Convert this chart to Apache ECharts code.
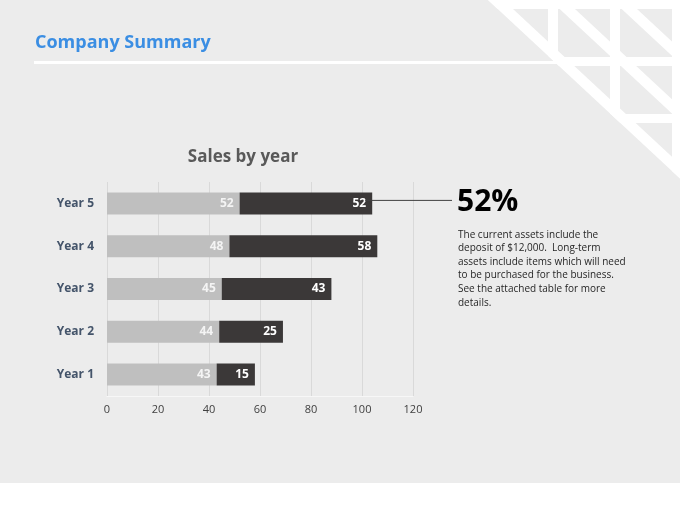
<!DOCTYPE html>
<html><head><meta charset="utf-8">
<script src="https://cdn.jsdelivr.net/npm/echarts@6/dist/echarts.min.js"></script>
<style>html,body{margin:0;padding:0;background:#fff}#c{width:680px;height:510px}</style>
</head><body><div id="c"></div>
<script>
const categories = ['Year 1', 'Year 2', 'Year 3', 'Year 4', 'Year 5'];
const seriesLight = [43, 44, 45, 48, 52];
const seriesDark = [15, 25, 43, 58, 52];
const xTicks = [0, 20, 40, 60, 80, 100, 120];
const pageTitle = 'Company Summary';
const chartTitle = 'Sales by year';
const headline = '52%';
const noteLines = [
  'The current assets include the',
  'deposit of $12,000.  Long-term',
  'assets include items which will need',
  'to be purchased for the business.',
  'See the attached table for more',
  'details.'
];

const BG = '#ececec';
const chart = echarts.init(document.getElementById('c'), null, {renderer: 'canvas'});

function decor() {
  const els = [];
  els.push({type: 'rect', id: 'bg', z: -10, silent: true, shape: {x: 0, y: 0, width: 680, height: 483}, style: {fill: BG}});
  els.push({type: 'polygon', id: 'wtri', z: -9, silent: true, shape: {points: [[488, 0], [680, 0], [680, 178.6]]}, style: {fill: '#ffffff'}});
  const cols = [496, 558, 620], rows = [9, 66, 123];
  for (let r = 0; r < 3; r++) for (let c = r; c < 3; c++) {
    els.push({type: 'rect', id: 'cell' + r + c, z: -8, silent: true, shape: {x: cols[c], y: rows[r], width: 52, height: 48}, style: {fill: BG}});
  }
  for (let k = 0; k < 3; k++) {
    const s = 62 * k;
    els.push({type: 'polygon', id: 'band' + k, z: -7, silent: true,
      shape: {points: [[488 + s, 0], [503.3 + s, 0], [718.3 + s, 200], [703 + s, 200]]}, style: {fill: '#ffffff'}});
  }
  els.push({type: 'rect', id: 'tline', z: -6, silent: true, shape: {x: 34, y: 61, width: 646, height: 3}, style: {fill: '#ffffff'}});
  els.push({type: 'text', id: 'ptitle', z: 5, x: 35, y: 43, style: {text: pageTitle, fill: '#3b8ee3', font: 'bold 18px "Open Sans", sans-serif', verticalAlign: 'middle'}});
  els.push({type: 'text', id: 'ctitle', z: 5, x: 243, y: 157, style: {text: chartTitle, fill: '#595959', font: 'bold 17px "Open Sans", sans-serif', align: 'center', verticalAlign: 'middle'}});
  els.push({type: 'text', id: 'head', z: 5, x: 457, y: 202, style: {text: headline, fill: '#000000', font: 'bold 30px "Open Sans", sans-serif', verticalAlign: 'middle'}});
  els.push({type: 'text', id: 'note', z: 5, x: 458, y: 228, style: {text: noteLines.join('\n'), fill: '#262626', font: '10px "Open Sans", sans-serif', lineHeight: 13.6, verticalAlign: 'top'}});
  return els;
}

const labelCommon = {show: true, position: 'insideRight', distance: 6, fontWeight: 'bold', fontSize: 12, fontFamily: '"Open Sans", sans-serif'};

chart.setOption({
  animation: false,
  backgroundColor: 'transparent',
  grid: {left: 107, right: 267, top: 182, bottom: 114, containLabel: false},
  xAxis: {
    type: 'value', min: xTicks[0], max: xTicks[xTicks.length - 1], interval: xTicks[1] - xTicks[0],
    axisLine: {show: true, lineStyle: {color: '#f7f7f7', width: 1}},
    axisTick: {show: false},
    splitLine: {show: true, lineStyle: {color: '#d9d9d9', width: 1}},
    axisLabel: {color: '#404040', fontSize: 11, margin: 8, fontFamily: '"Open Sans", sans-serif'}
  },
  yAxis: {
    type: 'category', data: categories,
    axisLine: {show: false}, axisTick: {show: false},
    axisLabel: {color: '#44546a', fontWeight: 'bold', fontSize: 12, margin: 13, fontFamily: '"Open Sans", sans-serif'}
  },
  series: [
    {type: 'bar', name: 'A', stack: 's', data: seriesLight, barWidth: 22, itemStyle: {color: '#bfbfbf'}, label: Object.assign({color: '#f4f4f4'}, labelCommon)},
    {type: 'bar', name: 'B', stack: 's', data: seriesDark, barWidth: 22, itemStyle: {color: '#3b3838'}, label: Object.assign({color: '#ffffff'}, labelCommon)}
  ],
  graphic: decor()
});

const last = categories.length - 1;
const pt = chart.convertToPixel({gridIndex: 0}, [seriesLight[last] + seriesDark[last], categories[last]]);
const g = decor();
g.push({type: 'line', id: 'callout', z: 5, silent: true, shape: {x1: pt[0] - 7, y1: pt[1] - 3, x2: 452, y2: pt[1] - 3}, style: {stroke: '#404040', lineWidth: 1}});
chart.setOption({graphic: g});
</script>
</body></html>
